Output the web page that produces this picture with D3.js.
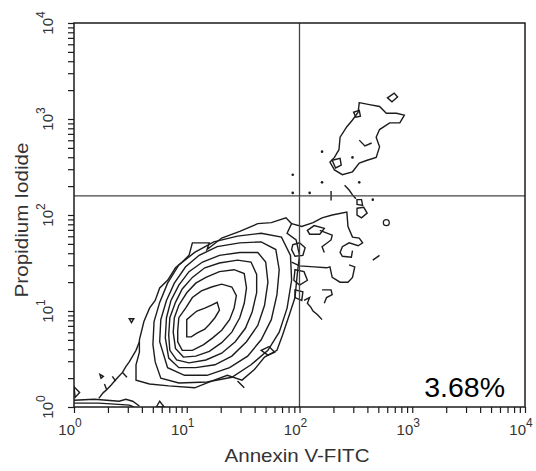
<!DOCTYPE html>
<html>
<head>
<meta charset="utf-8">
<script src="https://cdn.jsdelivr.net/npm/d3@7"></script>
<style>
  body { margin: 0; background: #fff; }
  svg { display: block; }
  text { font-family: "Liberation Sans", Arial, sans-serif; }
</style>
</head>
<body>
<svg id="chart" width="536" height="471"></svg>
<script>
// all marks are [log10 Annexin V-FITC, log10 Propidium Iodide]
// main (live) population, inner to outer contour
const ring1 = [[1.00,0.80],[1.00,0.91],[1.05,0.96],[1.09,1.00],[1.16,1.03],[1.22,1.06],[1.27,1.09],[1.29,1.01],[1.25,0.93],[1.20,0.86],[1.16,0.81],[1.09,0.77],[1.04,0.73],[1.00,0.73]];
const ring2 = [[0.92,0.80],[0.93,0.93],[0.99,1.03],[1.05,1.14],[1.13,1.21],[1.22,1.25],[1.31,1.28],[1.40,1.25],[1.44,1.16],[1.42,1.03],[1.38,0.91],[1.31,0.80],[1.23,0.72],[1.15,0.65],[1.05,0.59],[0.96,0.59],[0.92,0.68]];
const ring3 = [[0.88,0.78],[0.89,0.93],[0.93,1.06],[1.00,1.19],[1.08,1.29],[1.17,1.35],[1.29,1.41],[1.42,1.43],[1.51,1.39],[1.53,1.24],[1.51,1.08],[1.47,0.93],[1.40,0.78],[1.31,0.67],[1.20,0.58],[1.08,0.53],[0.97,0.52],[0.90,0.61]];
const ring4 = [[0.84,0.75],[0.85,0.93],[0.90,1.09],[0.96,1.23],[1.05,1.35],[1.16,1.45],[1.29,1.50],[1.45,1.53],[1.57,1.51],[1.62,1.38],[1.62,1.19],[1.58,0.99],[1.52,0.82],[1.43,0.68],[1.31,0.56],[1.17,0.49],[1.02,0.46],[0.91,0.49],[0.85,0.59]];
const ring5 = [[0.81,0.72],[0.82,0.93],[0.86,1.11],[0.93,1.27],[1.02,1.41],[1.14,1.51],[1.29,1.58],[1.47,1.61],[1.63,1.61],[1.70,1.51],[1.72,1.30],[1.69,1.06],[1.63,0.85],[1.53,0.68],[1.40,0.53],[1.25,0.44],[1.08,0.41],[0.93,0.41],[0.84,0.51]];
const ring6 = [[0.76,0.68],[0.77,0.91],[0.82,1.11],[0.89,1.29],[0.99,1.46],[1.11,1.58],[1.27,1.67],[1.47,1.71],[1.66,1.72],[1.79,1.64],[1.82,1.43],[1.80,1.17],[1.75,0.91],[1.66,0.70],[1.54,0.53],[1.38,0.41],[1.18,0.33],[0.98,0.33],[0.83,0.41]];
const ring7 = [[0.70,0.65],[0.71,0.89],[0.76,1.09],[0.83,1.29],[0.93,1.48],[1.07,1.61],[1.24,1.72],[1.45,1.78],[1.66,1.81],[1.84,1.77],[1.92,1.58],[1.93,1.32],[1.89,1.03],[1.82,0.78],[1.72,0.59],[1.57,0.44],[1.40,0.31],[1.18,0.26],[0.93,0.25],[0.77,0.30],[0.72,0.47]];
const ring8 = [[0.58,0.70],[0.62,0.89],[0.67,1.03],[0.72,1.11],[0.76,1.24],[0.83,1.32],[0.90,1.45],[0.96,1.51],[1.02,1.58],[1.05,1.71],[1.20,1.71],[1.18,1.64],[1.31,1.76],[1.47,1.83],[1.63,1.91],[1.75,1.92],[1.88,1.97],[1.93,1.91],[1.89,1.81],[1.97,1.74],[2.00,1.58],[1.98,1.38],[1.96,1.14],[1.91,0.96],[1.85,0.75],[1.80,0.59],[1.69,0.52],[1.60,0.39],[1.49,0.28],[1.36,0.33],[1.22,0.27],[1.07,0.20],[0.84,0.22],[0.67,0.24],[0.55,0.28],[0.55,0.44],[0.58,0.57]];

// upper right (late apoptotic) population and small closed islands
const upperRing = [[2.53,3.17],[2.62,3.15],[2.71,3.13],[2.77,3.06],[2.86,3.06],[2.93,3.04],[2.89,2.96],[2.80,2.96],[2.71,2.89],[2.68,2.81],[2.71,2.71],[2.68,2.60],[2.60,2.57],[2.53,2.54],[2.47,2.45],[2.38,2.42],[2.31,2.47],[2.27,2.55],[2.31,2.60],[2.35,2.68],[2.36,2.81],[2.42,2.92],[2.47,2.99],[2.52,3.07]];
const islands = [
  [[2.78,3.22],[2.84,3.27],[2.87,3.23],[2.82,3.18]],
  [[2.29,2.57],[2.36,2.59],[2.37,2.52],[2.32,2.49]],
  [[2.48,3.07],[2.53,3.09],[2.54,3.03],[2.50,3.02]],
  [[2.51,2.16],[2.55,2.16],[2.56,2.10],[2.51,2.11]],
  [[2.51,2.07],[2.57,2.08],[2.60,2.02],[2.55,1.97],[2.51,2.00]],
  [[2.07,1.84],[2.13,1.89],[2.22,1.86],[2.18,1.80],[2.09,1.80]],
  [[1.94,1.69],[2.00,1.71],[2.05,1.66],[2.03,1.58],[1.96,1.57],[1.93,1.64]],
  [[1.96,1.43],[2.04,1.41],[2.07,1.32],[2.00,1.27],[1.95,1.32]],
  [[1.96,1.22],[2.03,1.20],[2.02,1.11],[1.96,1.14]],
  [[1.66,0.59],[1.73,0.63],[1.78,0.57],[1.72,0.54]],
  [[0.00,0.21],[0.05,0.15],[0.01,0.10]],
  [[0.73,0.00],[0.76,0.06],[0.80,0.00]],
  [[0.49,0.92],[0.53,0.92],[0.51,0.88]],
  [[0.23,0.34],[0.26,0.32],[0.24,0.30]]
];

// open contour pieces
const tail = [[0.22,0.09],[0.26,0.15],[0.29,0.18],[0.33,0.23],[0.36,0.27],[0.39,0.31],[0.43,0.36],[0.46,0.42],[0.49,0.47],[0.52,0.53],[0.55,0.59],[0.58,0.68]];
const pieces = [
  [[0.37,0.27],[0.34,0.32]],
  [[0.43,0.36],[0.47,0.31]],
  [[0.29,0.18],[0.27,0.24]],
  [[0.00,0.07],[0.18,0.08],[0.29,0.07],[0.40,0.06],[0.46,0.08],[0.52,0.06],[0.58,0.01]],
  [[0.00,0.04],[0.22,0.04],[0.36,0.03],[0.49,0.02],[0.53,0.00]],
  [[2.53,2.78],[2.58,2.72],[2.64,2.75]],
  [[2.40,2.31],[2.44,2.26],[2.47,2.21],[2.50,2.17]],
  [[2.28,2.25],[2.28,2.15]],
  [[1.93,1.91],[2.02,1.88],[2.12,1.92],[2.20,1.97],[2.29,2.00],[2.42,2.03],[2.43,1.88],[2.47,1.77],[2.53,1.76],[2.56,1.71],[2.52,1.68],[2.44,1.71],[2.38,1.67],[2.36,1.61],[2.38,1.57],[2.46,1.56],[2.47,1.63]],
  [[2.18,1.84],[2.29,1.79],[2.28,1.74],[2.20,1.67],[2.22,1.61]],
  [[1.93,1.51],[2.00,1.47],[2.13,1.46],[2.24,1.45],[2.27,1.46],[2.29,1.35],[2.36,1.30],[2.43,1.30],[2.47,1.35],[2.49,1.46],[2.44,1.48]],
  [[2.20,1.22],[2.28,1.22],[2.29,1.17],[2.24,1.14],[2.22,1.08]],
  [[2.04,1.11],[2.09,1.14],[2.07,1.08],[2.10,1.04],[2.12,1.00],[2.16,0.96],[2.20,0.91]],
  [[2.65,1.53],[2.71,1.58]],
  [[1.45,0.27],[1.51,0.20]]
];

// single events
const dots = [[1.94,2.42],[1.94,2.23],[2.09,2.23],[2.20,2.34],[2.53,2.34],[2.20,2.66],[2.47,2.60],[2.65,2.16]];
const rings = [[2.77,1.92]];

// quadrant gate (channel values) and region statistic
const gateX = [100];
const gateY = [158];
const quadStats = ["3.68%"];

// axes
const decades = [0, 1, 2, 3, 4];
const minorSteps = [2, 3, 4, 5, 6, 7, 8, 9];
const xTitle = "Annexin V-FITC";
const yTitle = "Propidium Iodide";

const W = 536, H = 471;
const margin = {left: 74, right: 11, top: 23, bottom: 64};
const ink = "#1c1c1c";
const svg = d3.select("#chart");

const x = d3.scaleLog().domain([1, 1e4]).range([margin.left, W - margin.right]);
const y = d3.scaleLog().domain([1, 1e4]).range([H - margin.bottom, margin.top]);
const px = d => x(Math.pow(10, d[0]));
const py = d => y(Math.pow(10, d[1]));

svg.append("clipPath").attr("id", "plot")
  .append("rect")
  .attr("x", margin.left).attr("y", margin.top)
  .attr("width", W - margin.left - margin.right)
  .attr("height", H - margin.top - margin.bottom);

const plot = svg.append("g").attr("clip-path", "url(#plot)");

const closed = d3.line().x(px).y(py).curve(d3.curveLinearClosed);
const open = d3.line().x(px).y(py);

plot.selectAll("path.ring")
  .data([ring1, ring2, ring3, ring4, ring5, ring6, ring7, ring8, upperRing, ...islands])
  .join("path").attr("class", "ring")
  .attr("d", closed)
  .attr("fill", "none").attr("stroke", ink).attr("stroke-width", 1.4);

plot.selectAll("path.piece")
  .data([tail, ...pieces])
  .join("path").attr("class", "piece")
  .attr("d", open)
  .attr("fill", "none").attr("stroke", ink).attr("stroke-width", 1.4);

plot.selectAll("circle.dot")
  .data(dots)
  .join("circle").attr("class", "dot")
  .attr("cx", px).attr("cy", py).attr("r", 1.3).attr("fill", ink);

plot.selectAll("circle.o")
  .data(rings)
  .join("circle").attr("class", "o")
  .attr("cx", px).attr("cy", py).attr("r", 3)
  .attr("fill", "none").attr("stroke", ink).attr("stroke-width", 1.2);

// quadrant lines
svg.selectAll("line.gx").data(gateX).join("line").attr("class", "gx")
  .attr("x1", d => x(d)).attr("x2", d => x(d))
  .attr("y1", margin.top).attr("y2", H - margin.bottom)
  .attr("stroke", "#444").attr("stroke-width", 1.3);
svg.selectAll("line.gy").data(gateY).join("line").attr("class", "gy")
  .attr("y1", d => y(d)).attr("y2", d => y(d))
  .attr("x1", margin.left).attr("x2", W - margin.right)
  .attr("stroke", "#444").attr("stroke-width", 1.3);

// frame
svg.append("rect")
  .attr("x", margin.left).attr("y", margin.top)
  .attr("width", W - margin.left - margin.right)
  .attr("height", H - margin.top - margin.bottom)
  .attr("fill", "none").attr("stroke", ink).attr("stroke-width", 1.5);

// log ticks
const tickVals = decades.flatMap(k => k < 4
  ? [Math.pow(10, k), ...minorSteps.map(m => m * Math.pow(10, k))]
  : [Math.pow(10, k)]);

const xAxis = svg.append("g")
  .attr("transform", `translate(0,${H - margin.bottom})`)
  .call(d3.axisBottom(x).tickValues(tickVals).tickSize(6).tickFormat(""));
const yAxis = svg.append("g")
  .attr("transform", `translate(${margin.left},0)`)
  .call(d3.axisLeft(y).tickValues(tickVals).tickSize(6).tickFormat(""));
[xAxis, yAxis].forEach(g => {
  g.select(".domain").remove();
  g.selectAll("line").attr("stroke", ink).attr("stroke-width", 1.2);
});

// decade labels 10^k
const labelColor = "#333";
decades.forEach(k => {
  const tx = x(Math.pow(10, k));
  svg.append("text").attr("x", tx + 1).attr("y", 435)
    .attr("text-anchor", "end").attr("font-size", 15).attr("fill", labelColor).text("10");
  svg.append("text").attr("x", tx + 1).attr("y", 427)
    .attr("text-anchor", "start").attr("font-size", 12).attr("fill", labelColor).text(k);

  const ty = y(Math.pow(10, k));
  const g = svg.append("g").attr("transform", `translate(53,${ty}) rotate(-90)`);
  g.append("text").attr("x", 5).attr("y", 0)
    .attr("text-anchor", "end").attr("font-size", 15).attr("fill", labelColor).text("10");
  g.append("text").attr("x", 5).attr("y", -8)
    .attr("text-anchor", "start").attr("font-size", 12).attr("fill", labelColor).text(k);
});

// axis titles
svg.append("text")
  .attr("x", 297).attr("y", 462)
  .attr("text-anchor", "middle").attr("font-size", 18.5).attr("fill", labelColor)
  .attr("textLength", 145).attr("lengthAdjust", "spacingAndGlyphs")
  .text(xTitle);
svg.append("text")
  .attr("transform", "translate(28,220) rotate(-90)")
  .attr("text-anchor", "middle").attr("font-size", 18.5).attr("fill", labelColor)
  .attr("textLength", 155).attr("lengthAdjust", "spacingAndGlyphs")
  .text(yTitle);

// lower right quadrant statistic
svg.selectAll("text.stat").data(quadStats).join("text").attr("class", "stat")
  .attr("x", W - margin.right - 20).attr("y", 397)
  .attr("text-anchor", "end").attr("font-size", 28.5).attr("fill", "#000")
  .text(d => d);
</script>
</body>
</html>
